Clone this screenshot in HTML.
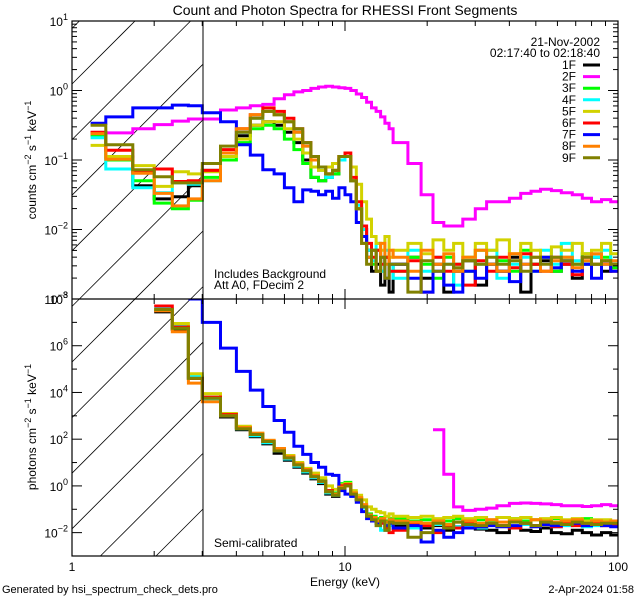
<!DOCTYPE html>
<html><head><meta charset="utf-8"><style>
html,body{margin:0;padding:0;background:#fff;overflow:hidden;width:640px;height:600px;}
svg{display:block;font-family:"Liberation Sans",sans-serif;overflow:hidden;}
</style></head><body>
<svg id="chart" width="640" height="600" viewBox="0 0 640 600">
<rect width="640" height="600" fill="#fff"/>
<defs>
<clipPath id="clipTop"><rect x="72" y="21" width="546" height="278"/></clipPath>
<clipPath id="clipBot"><rect x="72" y="299" width="546" height="257"/></clipPath>
</defs>
<g id="hatch"></g>
<g id="seriesTop" clip-path="url(#clipTop)"></g>
<g id="seriesBot" clip-path="url(#clipBot)"></g>
<g id="axes"></g>
<text x="345" y="15" font-size="14" text-anchor="middle">Count and Photon Spectra for RHESSI Front Segments</text>
<text x="600" y="46" font-size="12" text-anchor="end">21-Nov-2002</text>
<text x="600" y="57" font-size="12" text-anchor="end">02:17:40 to 02:18:40</text>
<g id="legend"></g>
<text x="214" y="278" font-size="12">Includes Background</text>
<text x="214" y="289" font-size="12">Att A0, FDecim 2</text>
<text x="214" y="547" font-size="12">Semi-calibrated</text>
<text transform="translate(36,160) rotate(-90)" font-size="12" text-anchor="middle">counts cm<tspan dy="-5" font-size="9">−2</tspan><tspan dy="5"> s</tspan><tspan dy="-5" font-size="9">−1</tspan><tspan dy="5"> keV</tspan><tspan dy="-5" font-size="9">−1</tspan></text>
<text transform="translate(36,427) rotate(-90)" font-size="12" text-anchor="middle">photons cm<tspan dy="-5" font-size="9">−2</tspan><tspan dy="5"> s</tspan><tspan dy="-5" font-size="9">−1</tspan><tspan dy="5"> keV</tspan><tspan dy="-5" font-size="9">−1</tspan></text>
<text x="345" y="586" font-size="12" text-anchor="middle">Energy (keV)</text>
<text x="2" y="593" font-size="11">Generated by hsi_spectrum_check_dets.pro</text>
<text x="634" y="593" font-size="11" text-anchor="end">2-Apr-2024 01:58</text>
</svg>
<script>
const edges = [1.17,1.33,1.67,2,2.33,2.67,3,
 3.5,4,4.5,5,5.5,6,6.5,7,7.5,8,8.5,9,9.5,10,10.5,11,11.5,12,12.5,13,13.5,14,14.5,15,
 17,19,21,23,25,27,30,33,36,40,44,48,52,57,62,68,74,80,87,94,100];
const detectors = ['1F','2F','3F','4F','5F','6F','7F','8F','9F'];
const colors = ['#000000','#ff00ff','#00ff00','#00ffff','#d2d200','#ff0000','#0000ff','#ff8000','#808000'];
const cnt1F = [-0.61,-0.96,-1.37,-1.56,-1.53,-1.37, -1.15,-0.9,-0.65,-0.5,-0.45,-0.5,-0.6,-0.75,-1.0,-1.25,-1.3,-1.25,-1.2,-1.0,-0.95,-1.3,-1.7,-2.0,-2.3,-2.6,-2.5,-2.8,-2.4,-2.9, -2.5,-2.4,-2.7,-2.5,-2.9,-2.6,-2.45,-2.8,-2.5,-2.6,-2.4,-2.9,-2.5,-2.45,-2.6,-2.5,-2.7,-2.5,-2.4,-2.6,-2.5];
const cnt2F = [-0.64,-0.61,-0.55,-0.49,-0.44,-0.41, -0.41,-0.28,-0.25,-0.22,-0.2,-0.12,-0.06,-0.02,0.0,0.03,0.05,0.06,0.05,0.04,0.03,0.0,-0.05,-0.1,-0.17,-0.25,-0.3,-0.38,-0.47,-0.55, -0.75,-1.05,-1.5,-1.9,-1.95,-1.95,-1.85,-1.7,-1.6,-1.6,-1.55,-1.48,-1.45,-1.42,-1.44,-1.47,-1.5,-1.55,-1.6,-1.57,-1.6];
const cnt3F = [-0.65,-1.0,-1.3,-1.62,-1.7,-1.58, -1.25,-1.0,-0.75,-0.55,-0.5,-0.55,-0.7,-0.85,-1.05,-1.25,-1.3,-1.25,-1.2,-1.0,-0.95,-1.3,-1.7,-2.1,-2.4,-2.5,-2.3,-2.6,-2.4,-2.5, -2.6,-2.4,-2.5,-2.7,-2.4,-2.5,-2.6,-2.3,-2.5,-2.45,-2.6,-2.3,-2.5,-2.4,-2.6,-2.4,-2.5,-2.35,-2.5,-2.4,-2.55];
const cnt4F = [-0.68,-1.13,-1.4,-1.47,-1.33,-1.35, -1.3,-0.95,-0.6,-0.4,-0.3,-0.35,-0.45,-0.6,-0.8,-1.0,-1.15,-1.25,-1.15,-1.0,-0.95,-1.3,-1.65,-2.0,-2.3,-2.45,-2.2,-2.6,-2.3,-2.5, -2.7,-2.3,-2.6,-2.4,-2.5,-2.8,-2.4,-2.5,-2.3,-2.7,-2.5,-2.4,-2.6,-2.3,-2.5,-2.2,-2.45,-2.5,-2.4,-2.3,-2.5];
const cnt5F = [-0.79,-0.95,-1.08,-1.38,-1.17,-1.2, -1.17,-0.95,-0.7,-0.5,-0.45,-0.45,-0.55,-0.7,-0.9,-1.1,-1.15,-1.1,-1.05,-0.95,-0.95,-1.1,-1.35,-1.6,-1.85,-2.1,-2.2,-2.3,-2.1,-2.4, -2.3,-2.2,-2.35,-2.15,-2.3,-2.2,-2.4,-2.2,-2.3,-2.15,-2.35,-2.2,-2.3,-2.4,-2.25,-2.3,-2.2,-2.35,-2.3,-2.2,-2.35];
const cnt6F = [-0.6,-0.86,-1.17,-1.13,-1.31,-1.3, -1.15,-0.85,-0.55,-0.35,-0.25,-0.3,-0.4,-0.55,-0.75,-0.95,-1.1,-1.2,-1.15,-0.95,-0.9,-1.25,-1.6,-1.95,-2.2,-2.4,-2.3,-2.5,-2.4,-2.6, -2.6,-2.45,-2.9,-2.4,-2.6,-2.5,-2.8,-2.45,-2.6,-2.4,-2.55,-2.35,-2.5,-2.6,-2.4,-2.5,-2.65,-2.4,-2.5,-2.45,-2.6];
const cnt7F = [-0.47,-0.38,-0.25,-0.25,-0.21,-0.22, -0.32,-0.45,-0.78,-0.93,-1.14,-1.2,-1.4,-1.6,-1.43,-1.45,-1.5,-1.45,-1.55,-1.4,-1.5,-1.6,-1.9,-2.1,-2.4,-2.3,-2.6,-2.4,-2.7,-2.5, -2.5,-2.7,-2.9,-2.6,-2.8,-2.9,-2.6,-2.7,-2.5,-2.6,-2.75,-2.5,-2.6,-2.4,-2.55,-2.45,-2.6,-2.5,-2.7,-2.5,-2.6];
const cnt8F = [-0.62,-0.99,-1.19,-1.48,-1.66,-1.56, -1.3,-0.9,-0.55,-0.35,-0.3,-0.35,-0.45,-0.6,-0.8,-1.0,-1.1,-1.2,-1.15,-0.95,-0.95,-1.3,-1.7,-2.2,-2.4,-2.3,-2.6,-2.2,-2.5,-2.3, -2.4,-2.6,-2.3,-2.5,-2.35,-2.6,-2.4,-2.3,-2.5,-2.6,-2.35,-2.5,-2.4,-2.6,-2.45,-2.4,-2.55,-2.45,-2.35,-2.5,-2.45];
const cnt9F = [-0.5,-0.78,-1.14,-1.24,-1.33,-1.33, -1.05,-0.8,-0.6,-0.4,-0.3,-0.35,-0.45,-0.55,-0.75,-0.95,-1.1,-1.2,-1.15,-0.95,-0.95,-1.3,-1.7,-2.2,-2.5,-2.3,-2.6,-2.4,-2.7,-2.5, -2.5,-2.9,-2.45,-2.6,-2.5,-2.55,-2.45,-2.5,-2.4,-2.5,-2.45,-2.6,-2.4,-2.5,-2.4,-2.45,-2.5,-2.4,-2.5,-2.45,-2.5];
const N = null;
const ph1F = [N,N,N,7.45,6.7,4.6, 3.7,2.95,2.4,2.1,1.8,1.4,1.1,0.8,0.55,0.3,0.1,-0.35,-0.45,-0.1,0.0,-0.4,-0.6,-0.9,-1.3,-1.45,-1.6,-1.5,-1.9,-1.6, -1.7,-1.6,-1.8,-1.7,-1.9,-1.75,-1.8,-1.85,-1.9,-2.0,-1.8,-1.9,-1.95,-1.8,-2.0,-2.05,-1.9,-2.0,-2.1,-2.0,-2.1];
const ph2F = [N,N,N,N,N,N, N,N,N,N,N,N,N,N,N,N,N,N,N,N,N,N,N,N,N,N,N,N,N,N, N,N,N,2.4,0.5,-0.9,-1.05,-1.0,-0.95,-0.85,-0.75,-0.73,-0.75,-0.77,-0.8,-0.85,-0.85,-0.88,-0.85,-0.8,-0.85];
const ph3F = [N,N,N,7.55,6.75,4.65, 3.8,3.05,2.5,2.2,1.9,1.55,1.25,0.95,0.7,0.45,0.25,-0.2,-0.3,0.1,0.15,-0.3,-0.5,-0.85,-1.2,-1.3,-1.4,-1.35,-1.5,-1.4, -1.4,-1.5,-1.45,-1.6,-1.5,-1.4,-1.55,-1.45,-1.5,-1.35,-1.4,-1.5,-1.45,-1.55,-1.4,-1.5,-1.45,-1.4,-1.55,-1.5,-1.5];
const ph4F = [N,N,N,7.6,6.85,4.7, 3.7,3.0,2.45,2.15,1.85,1.5,1.15,0.85,0.6,0.35,0.15,-0.3,-0.4,-0.05,0.0,-0.45,-0.6,-0.95,-1.3,-1.5,-1.55,-1.9,-1.6,-1.7, -1.6,-1.8,-1.7,-1.65,-1.8,-1.75,-1.7,-1.8,-1.6,-1.7,-1.75,-1.65,-1.7,-1.6,-1.75,-1.7,-1.65,-1.75,-1.7,-1.6,-1.7];
const ph5F = [N,N,N,7.55,6.95,4.8, 3.95,3.1,2.55,2.25,1.95,1.6,1.3,1.0,0.75,0.55,0.35,0.0,-0.15,0.05,0.1,-0.2,-0.4,-0.6,-0.9,-1.0,-1.1,-1.15,-1.3,-1.2, -1.3,-1.35,-1.3,-1.4,-1.35,-1.3,-1.4,-1.35,-1.45,-1.35,-1.4,-1.35,-1.45,-1.4,-1.35,-1.45,-1.4,-1.5,-1.45,-1.45,-1.5];
const ph6F = [N,N,N,7.7,6.8,4.6, 3.8,3.05,2.5,2.2,1.9,1.55,1.2,0.9,0.7,0.4,0.2,-0.2,-0.35,0.0,0.05,-0.35,-0.55,-0.9,-1.25,-1.4,-1.5,-1.6,-1.8,-2.0, -1.9,-1.6,-1.7,-2.0,-1.7,-1.8,-1.6,-1.75,-1.65,-1.7,-1.8,-1.6,-1.7,-1.65,-1.75,-1.6,-1.7,-1.65,-1.6,-1.7,-1.65];
const ph7F = [N,N,N,N,N,8.0, 7.0,5.9,4.9,4.1,3.4,2.8,2.3,1.7,1.35,1.0,0.8,0.5,0.45,-0.2,-0.35,-0.45,-0.7,-1.1,-1.4,-1.5,-1.6,-1.5,-1.7,-1.6, -1.8,-1.7,-2.4,-1.9,-2.2,-2.0,-1.8,-1.75,-1.7,-1.75,-1.7,-1.6,-1.75,-1.65,-1.7,-1.65,-1.6,-1.7,-1.65,-1.7,-1.75];
const ph8F = [N,N,N,7.5,6.6,4.4, 3.6,3.0,2.5,2.25,1.95,1.6,1.25,0.95,0.7,0.45,0.2,-0.25,-0.35,-0.05,0.0,-0.3,-0.5,-0.8,-1.25,-1.35,-1.5,-1.4,-1.55,-1.45, -1.5,-1.55,-1.6,-1.5,-1.65,-1.55,-1.5,-1.6,-1.45,-1.55,-1.5,-1.6,-1.45,-1.5,-1.55,-1.5,-1.45,-1.6,-1.5,-1.55,-1.5];
const ph9F = [N,N,N,7.55,6.75,4.6, 3.75,3.0,2.45,2.2,1.9,1.5,1.2,0.9,0.65,0.4,0.2,-0.25,-0.4,-0.1,0.0,-0.35,-0.6,-0.9,-1.3,-1.45,-1.7,-1.5,-1.9,-1.55, -1.6,-2.2,-2.0,-1.6,-1.8,-1.55,-1.65,-1.7,-1.6,-1.7,-1.55,-1.6,-1.7,-1.55,-1.6,-1.65,-1.55,-1.6,-1.65,-1.6,-1.6];
const countSeries = [cnt1F,cnt2F,cnt3F,cnt4F,cnt5F,cnt6F,cnt7F,cnt8F,cnt9F];
const photonSeries = [ph1F,ph2F,ph3F,ph4F,ph5F,ph6F,ph7F,ph8F,ph9F];
const xTickLabels = ['1','10','100'];
const xTickValues = [1,10,100];
const topExps = [1,0,-1,-2,-3];
const botExps = [8,6,4,2,0,-2];

const X0=72, X1=618, YT=21, YM=299, YB=556;
const xS = e => X0 + (X1-X0)/2 * Math.log10(e);
const yTop = L => YT + (YM-YT)/4 * (1 - L);
const yBot = L => YM + (YB-YM)/11 * (8 - L);
const NS='http://www.w3.org/2000/svg';
function mk(tag, attrs, parent){const el=document.createElementNS(NS,tag);for(const k in attrs)el.setAttribute(k,attrs[k]);parent.appendChild(el);return el;}

// hatch lines, clipped manually to plot region
const hatch=document.getElementById('hatch');
for(let k=-3;k<12;k++){
  const y0=84+55.6*k;
  let xa=72, ya=y0, xb=203, yb=y0-131;
  if(ya>YB){xa+=ya-YB; ya=YB;}
  if(yb<YT){xb-=YT-yb; yb=YT;}
  if(xa>=xb) continue;
  const l=mk('line',{x1:xa.toFixed(1),y1:ya.toFixed(1),x2:xb.toFixed(1),y2:yb.toFixed(1),stroke:'#000','stroke-width':0.8},hatch);
  
  
}

function stepPath(vals, yf){
  let d='', open=false;
  for(let i=0;i<vals.length;i++){
    const v=vals[i];
    if(v===null){open=false;continue;}
    const xa=xS(edges[i]).toFixed(1), xb=xS(edges[i+1]).toFixed(1), y=yf(v).toFixed(1);
    d += (open? ' L':' M')+xa+' '+y+' L'+xb+' '+y;
    open=true;
  }
  return d;
}
const gT=document.getElementById('seriesTop'), gB=document.getElementById('seriesBot');
countSeries.forEach((s,i)=>{
  const p=mk('path',{d:stepPath(s,yTop),fill:'none',stroke:colors[i],'stroke-width':3},gT);
  
  
});
photonSeries.forEach((s,i)=>{
  const p=mk('path',{d:stepPath(s,yBot),fill:'none',stroke:colors[i],'stroke-width':3},gB);
  
  
});

const ax=document.getElementById('axes');
mk('rect',{x:X0,y:YT,width:X1-X0,height:YB-YT,fill:'none',stroke:'#000','stroke-width':1.2},ax);
mk('line',{x1:X0,y1:YM,x2:X1,y2:YM,stroke:'#000','stroke-width':1.2},ax);
mk('line',{x1:203,y1:YT,x2:203,y2:YB,stroke:'#000','stroke-width':1},ax);
function tk(x1,y1,x2,y2){mk('line',{x1,y1,x2,y2,stroke:'#000','stroke-width':1},ax);}
for(let dec=1;dec<=10;dec*=10){
  for(let m=1;m<=9;m++){
    const e=m*dec; if(e>100) break;
    const x=xS(e), len=(m===1)?10:5;
    tk(x,YT,x,YT+len); tk(x,YM,x,YM-len); tk(x,YM,x,YM+len); tk(x,YB,x,YB-len);
  }
}
for(let p=-3;p<1;p++){for(let m=1;m<=9;m++){const y=yTop(p+Math.log10(m));const len=m===1?10:5;tk(X0,y,X0+len,y);tk(X1,y,X1-len,y);}}
for(let p=-3;p<=8;p++){const y=yBot(p);const len=(p%2===0)?10:5;tk(X0,y,X0+len,y);tk(X1,y,X1-len,y);}
xTickValues.forEach((v,i)=>{
  const t=mk('text',{x:xS(v),y:571,'font-size':12,'text-anchor':'middle'},ax);t.textContent=xTickLabels[i];
  
  
});
function expLabel(L,y){
  const t=mk('text',{x:68,y:y+5,'font-size':12,'text-anchor':'end'},ax);
  
  
  const a=mk('tspan',{},t);a.textContent='10';
  const b=mk('tspan',{dy:-6,'font-size':9},t);b.textContent=(L<0?'−':'')+Math.abs(L);
}
topExps.forEach(L=>expLabel(L,yTop(L)));
botExps.forEach(L=>expLabel(L,yBot(L)));

const lg=document.getElementById('legend');
detectors.forEach((d,i)=>{
  const y=69+11.6*i;
  const t=mk('text',{x:576,y:y,'font-size':12,'text-anchor':'end'},lg);t.textContent=d;
  
  
  const l=mk('line',{x1:583,y1:y-4,x2:600,y2:y-4,stroke:colors[i],'stroke-width':3},lg);
  
  
});
</script>
</body></html>
